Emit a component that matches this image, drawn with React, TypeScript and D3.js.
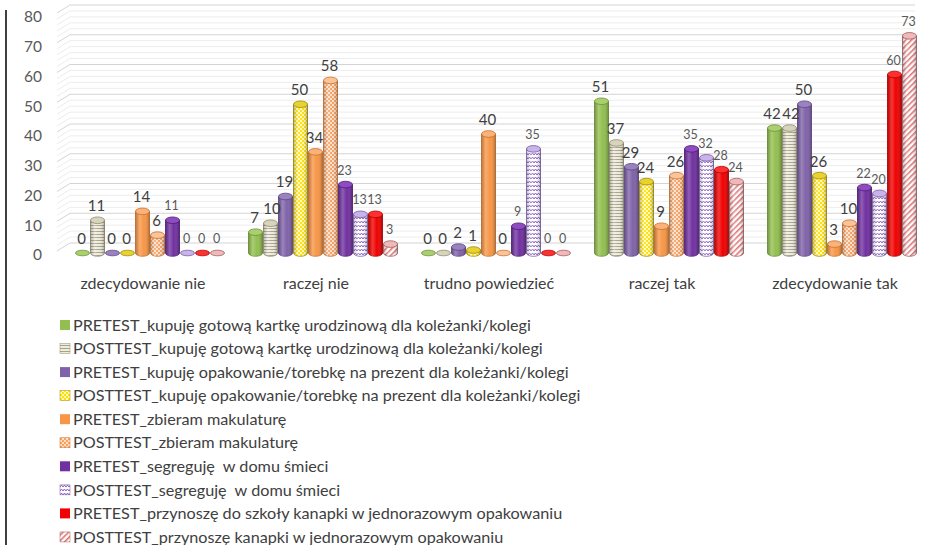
import React from "react";
import * as d3 from "d3";

const categories = ["zdecydowanie nie", "raczej nie", "trudno powiedzieć", "raczej tak", "zdecydowanie tak"];

const seriesNames = [
  "PRETEST_kupuję gotową kartkę urodzinową dla koleżanki/kolegi",
  "POSTTEST_kupuję gotową kartkę urodzinową dla koleżanki/kolegi",
  "PRETEST_kupuję opakowanie/torebkę na prezent dla koleżanki/kolegi",
  "POSTTEST_kupuję opakowanie/torebkę na prezent dla koleżanki/kolegi",
  "PRETEST_zbieram makulaturę",
  "POSTTEST_zbieram makulaturę",
  "PRETEST_segreguję  w domu śmieci",
  "POSTTEST_segreguję  w domu śmieci",
  "PRETEST_przynoszę do szkoły kanapki w jednorazowym opakowaniu",
  "POSTTEST_przynoszę kanapki w jednorazowym opakowaniu",
];

const s1 = [0, 7, 0, 51, 42];
const s2 = [11, 10, 0, 37, 42];
const s3 = [0, 19, 2, 29, 50];
const s4 = [0, 50, 1, 24, 26];
const s5 = [14, 34, 40, 9, 3];
const s6 = [6, 58, 0, 26, 10];
const s7 = [11, 23, 9, 35, 22];
const s8 = [0, 13, 35, 32, 20];
const s9 = [0, 13, 0, 28, 60];
const s10 = [0, 3, 0, 24, 73];
const seriesValues = [s1, s2, s3, s4, s5, s6, s7, s8, s9, s10];

const yTicks = [0, 10, 20, 30, 40, 50, 60, 70, 80];

const fills = [
  "#92BF4F",
  "url(#pBeige)",
  "#7F62A8",
  "url(#pYellow)",
  "#F79646",
  "url(#pOrange)",
  "#7030A0",
  "url(#pLav)",
  "#F00000",
  "url(#pPink)",
];
const topFills = ["#A9CF6E", "#D8D4BC", "#9A82C0", "#E8D230", "#FAB27A", "#F9C49A", "#8E4CC0", "#C8B4E8", "#FF3030", "#F0B8B8"];
const strokes = ["#6E9236", "#8E8A70", "#5E4684", "#9E8A10", "#C8702A", "#C8702A", "#4E1C78", "#7A5AA8", "#B00000", "#A06060"];

export default function App() {
  const W = 929, H = 545;
  const y = d3.scaleLinear().domain([0, 80]).range([253, 15]);
  const xg = d3.scalePoint<string>().domain(categories).range([150, 842]);
  const xs = d3.scaleBand<number>().domain(d3.range(10)).range([-75, 75]).padding(0);
  const bw = xs.bandwidth() - 1;
  const ry = 3.3;
  const gridVals = d3.range(0, 81, 2);

  return (
    <svg width={W} height={H} style={{ display: "block", position: "absolute", left: 0, top: 0, background: "#fff" }}
      fontFamily="Lato, 'Noto Sans', sans-serif">
      <defs>
        <linearGradient id="shade" x1="0" x2="1" y1="0" y2="0">
          <stop offset="0%" stopColor="#000" stopOpacity={0.22} />
          <stop offset="30%" stopColor="#fff" stopOpacity={0.22} />
          <stop offset="60%" stopColor="#fff" stopOpacity={0} />
          <stop offset="100%" stopColor="#000" stopOpacity={0.28} />
        </linearGradient>
        <pattern id="pBeige" patternUnits="userSpaceOnUse" width={4} height={3}>
          <rect width={4} height={3} fill="#EEECE1" />
          <line x1={0} x2={4} y1={0.5} y2={0.5} stroke="#A9A385" strokeWidth={1} />
        </pattern>
        <pattern id="pYellow" patternUnits="userSpaceOnUse" width={4} height={4}>
          <rect width={4} height={4} fill="#FFE000" />
          <rect x={0} y={0} width={2} height={2} fill="#FFF8C0" />
          <rect x={2} y={2} width={2} height={2} fill="#FFF8C0" />
        </pattern>
        <pattern id="pOrange" patternUnits="userSpaceOnUse" width={4} height={4}>
          <rect width={4} height={4} fill="#F7A060" />
          <circle cx={1} cy={1} r={0.9} fill="#fff" />
          <circle cx={3} cy={3} r={0.9} fill="#fff" />
        </pattern>
        <pattern id="pLav" patternUnits="userSpaceOnUse" width={6} height={4}>
          <rect width={6} height={4} fill="#fff" />
          <path d="M0,3 L1.5,1 L3,3 L4.5,1 L6,3" fill="none" stroke="#8A5CC8" strokeWidth={1} />
        </pattern>
        <pattern id="pPink" patternUnits="userSpaceOnUse" width={4} height={4} patternTransform="rotate(45)">
          <rect width={4} height={4} fill="#fff" />
          <rect width={1.6} height={4} fill="#E07070" />
        </pattern>
      </defs>

      {/* frame line */}
      <line x1={6} x2={6} y1={10} y2={545} stroke="#000" strokeWidth={1.5} />

      {/* wall gridlines */}
      {gridVals.map((v) => {
        const gy = y(v) - 10;
        const major = v % 10 === 0;
        const c = major ? "#D4D4D4" : "#EDEDED";
        return (
          <g key={"g" + v}>
            <line x1={57} y1={gy + 8} x2={70} y2={gy} stroke={c} strokeWidth={1} />
            <line x1={70} y1={gy} x2={915} y2={gy} stroke={c} strokeWidth={1} />
          </g>
        );
      })}

      {/* y axis labels */}
      {yTicks.map((t) => (
        <text key={"t" + t} x={42} y={y(t) + 2} dy="0.35em" textAnchor="end" fontSize={15.5} fill="#595959">{t}</text>
      ))}

      {/* bars */}
      {categories.map((cat, gi) => (
        <g key={cat}>
          {seriesValues.map((vals, si) => {
            const v = vals[gi];
            const cx = (xg(cat) as number) + (xs(si) as number) + xs.bandwidth() / 2;
            const x0 = cx - bw / 2;
            const yb = y(0);
            const yt = y(v);
            const body = `M${x0},${yt} L${x0},${yb} A${bw / 2},${ry} 0 0 0 ${x0 + bw},${yb} L${x0 + bw},${yt} Z`;
            return (
              <g key={si}>
                {v > 0 ? (
                  <>
                    <path d={body} fill={fills[si]} stroke={strokes[si]} strokeWidth={0.8} />
                    <path d={body} fill="url(#shade)" />
                    <ellipse cx={cx} cy={yt} rx={bw / 2} ry={ry} fill={topFills[si]} stroke={strokes[si]} strokeWidth={0.8} />
                  </>
                ) : (
                  <ellipse cx={cx} cy={yb} rx={bw / 2} ry={ry - 0.5} fill={topFills[si]} stroke={strokes[si]} strokeWidth={0.8} />
                )}
              </g>
            );
          })}
          {seriesValues.map((vals, si) => {
            const v = vals[gi];
            const cx = (xg(cat) as number) + (xs(si) as number) + xs.bandwidth() / 2;
            const big = si < 6;
            // nudge neighbouring labels that sit at the same height apart
            const prev = si > 0 ? vals[si - 1] === undefined ? null : seriesValues[si - 1][gi] : null;
            const next = si < 9 ? seriesValues[si + 1][gi] : null;
            let dx = -1;
            if (big && next !== null && Math.abs(next - v) < 4 && v >= 10) dx = -2.5;
            if (big && prev !== null && Math.abs(prev - v) < 4 && v >= 10) dx = 1.5;
            return (
              <text key={"l" + si} x={cx + dx} y={y(v) - (big ? 9 : 10)} textAnchor="middle"
                fontSize={big ? 15 : 12.5} fill={big ? "#404040" : "#595959"}>{v}</text>
            );
          })}
          <text x={(xg(cat) as number) - 7} y={283} dy="0.35em" textAnchor="middle" fontSize={16} fill="#404040">{cat}</text>
        </g>
      ))}

      {/* legend */}
      {seriesNames.map((name, i) => {
        const ly = 325 + i * 23.55;
        return (
          <g key={"lg" + i}>
            <rect x={60} y={ly - 5} width={10} height={10} fill={fills[i]} stroke={i % 2 === 1 ? strokes[i] : "none"} strokeWidth={0.5} />
            <text x={73} y={ly} dy="0.35em" fontSize={16.2} fill="#404040" style={{ whiteSpace: "pre" }}>{name}</text>
          </g>
        );
      })}
    </svg>
  );
}
